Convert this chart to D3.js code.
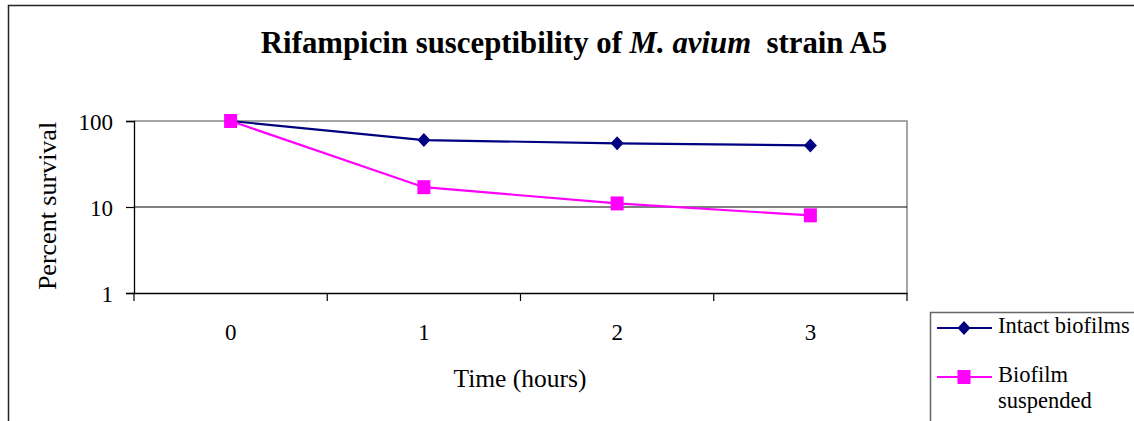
<!DOCTYPE html>
<html><head><meta charset="utf-8">
<script src="https://cdn.jsdelivr.net/npm/d3@7"></script>
<style>body{margin:0;background:#fff}svg{display:block}text{font-family:"Liberation Serif","Times New Roman",serif}</style>
</head><body><svg id="c" width="1134" height="421"></svg>
<script>
const categories = ["0","1","2","3"];
const intact = [100, 60, 55, 52];
const suspended = [100, 17, 11, 8];
const yTicks = [1, 10, 100];
const seriesNames = ["Intact biofilms", "Biofilm suspended"];
const colors = ["#000080", "#FF00FF"];

const svg = d3.select("#c");
const plot = {l:134, r:907, t:121, b:293};
const x = d3.scaleBand().domain(categories).range([plot.l, plot.r]);
const y = d3.scaleLog().domain([1,100]).range([plot.b, plot.t]);
const cx = c => x(c) + x.bandwidth()/2;

// outer border
svg.append("path").attr("d","M8.5,421 V5.5 H1134").attr("fill","none").attr("stroke","#222").attr("stroke-width",1.5);

// title
const title = svg.append("text").attr("x",574).attr("y",53).attr("text-anchor","middle")
  .attr("font-size",30.8).attr("font-weight","bold").attr("xml:space","preserve");
title.append("tspan").text("Rifampicin susceptibility of ");
title.append("tspan").attr("font-style","italic").text("M. avium");
title.append("tspan").text("  strain A5");

// plot frame: gray top/right
svg.append("path").attr("d",`M${plot.l},${plot.t} H${plot.r} V${plot.b}`)
  .attr("fill","none").attr("stroke","#888").attr("stroke-width",1.5);
// gridlines
yTicks.filter(v=>v>1 && v<100).forEach(v=>{
  svg.append("line").attr("x1",plot.l).attr("x2",plot.r).attr("y1",y(v)).attr("y2",y(v)).attr("stroke","#000").attr("stroke-width",1.2);
});

// axes
const yAxis = d3.axisLeft(y).tickValues(yTicks).tickFormat(d3.format("d")).tickSize(8).tickPadding(13);
const gy = svg.append("g").attr("transform",`translate(${plot.l},0)`).call(yAxis);
gy.select(".domain").attr("stroke","#000").attr("stroke-width",1.3);
gy.selectAll(".tick line").attr("stroke","#000").attr("stroke-width",1.2);
gy.selectAll("text").attr("font-size",23).attr("font-family","Liberation Serif").attr("fill","#000").attr("dy","0.35em");

const xAxis = d3.axisBottom(x).tickSize(0).tickPadding(31);
const gx = svg.append("g").attr("transform",`translate(0,${plot.b})`).call(xAxis);
gx.select(".domain").attr("stroke","#000").attr("stroke-width",1.3);
gx.selectAll("text").attr("font-size",23).attr("font-family","Liberation Serif").attr("fill","#000");
const bounds = categories.map(c=>x(c)).concat([plot.r]);
gx.selectAll(".bt").data(bounds).enter().append("line").attr("x1",d=>d).attr("x2",d=>d).attr("y1",0).attr("y2",8).attr("stroke","#000").attr("stroke-width",1.2);

// axis labels
svg.append("text").attr("transform","translate(56,206) rotate(-90)").attr("text-anchor","middle").attr("font-size",26).text("Percent survival");
svg.append("text").attr("x",520).attr("y",387).attr("text-anchor","middle").attr("font-size",25.5).text("Time (hours)");

// markers
const diamondPath = "M0,-7 L6.5,0 L0,7 L-6.5,0 Z";
const squarePath = "M-6.5,-7 H6.5 V7 H-6.5 Z";

// lines
const line = d3.line().x((d,i)=>cx(categories[i])).y(d=>y(d));
[intact, suspended].forEach((s,k)=>{
  svg.append("path").datum(s).attr("d",line).attr("fill","none").attr("stroke",colors[k]).attr("stroke-width",2.2);
});
svg.selectAll(".m1").data(intact).enter().append("path")
  .attr("transform",(d,i)=>`translate(${cx(categories[i])},${y(d)})`)
  .attr("d",diamondPath).attr("fill",colors[0]);
svg.selectAll(".m2").data(suspended).enter().append("path")
  .attr("transform",(d,i)=>`translate(${cx(categories[i])},${y(d)})`)
  .attr("d",squarePath).attr("fill",colors[1]);

// legend
svg.append("path").attr("d","M930.5,421 V312.5 H1134").attr("fill","none").attr("stroke","#666").attr("stroke-width",1.5);
const lg = svg.append("g");
const rows = [{y:328, lines:[seriesNames[0]]},{y:377, lines:["Biofilm","suspended"]}];
rows.forEach((r,k)=>{
  lg.append("line").attr("x1",937).attr("x2",992).attr("y1",r.y).attr("y2",r.y).attr("stroke",colors[k]).attr("stroke-width",2.2);
  lg.append("path").attr("transform",`translate(964,${r.y})`).attr("d",k===0?diamondPath:squarePath).attr("fill",colors[k]);
  r.lines.forEach((t,j)=>{
    lg.append("text").attr("x",998).attr("y",r.y+5+j*26).attr("font-size",22.5).text(t);
  });
});
</script></body></html>
